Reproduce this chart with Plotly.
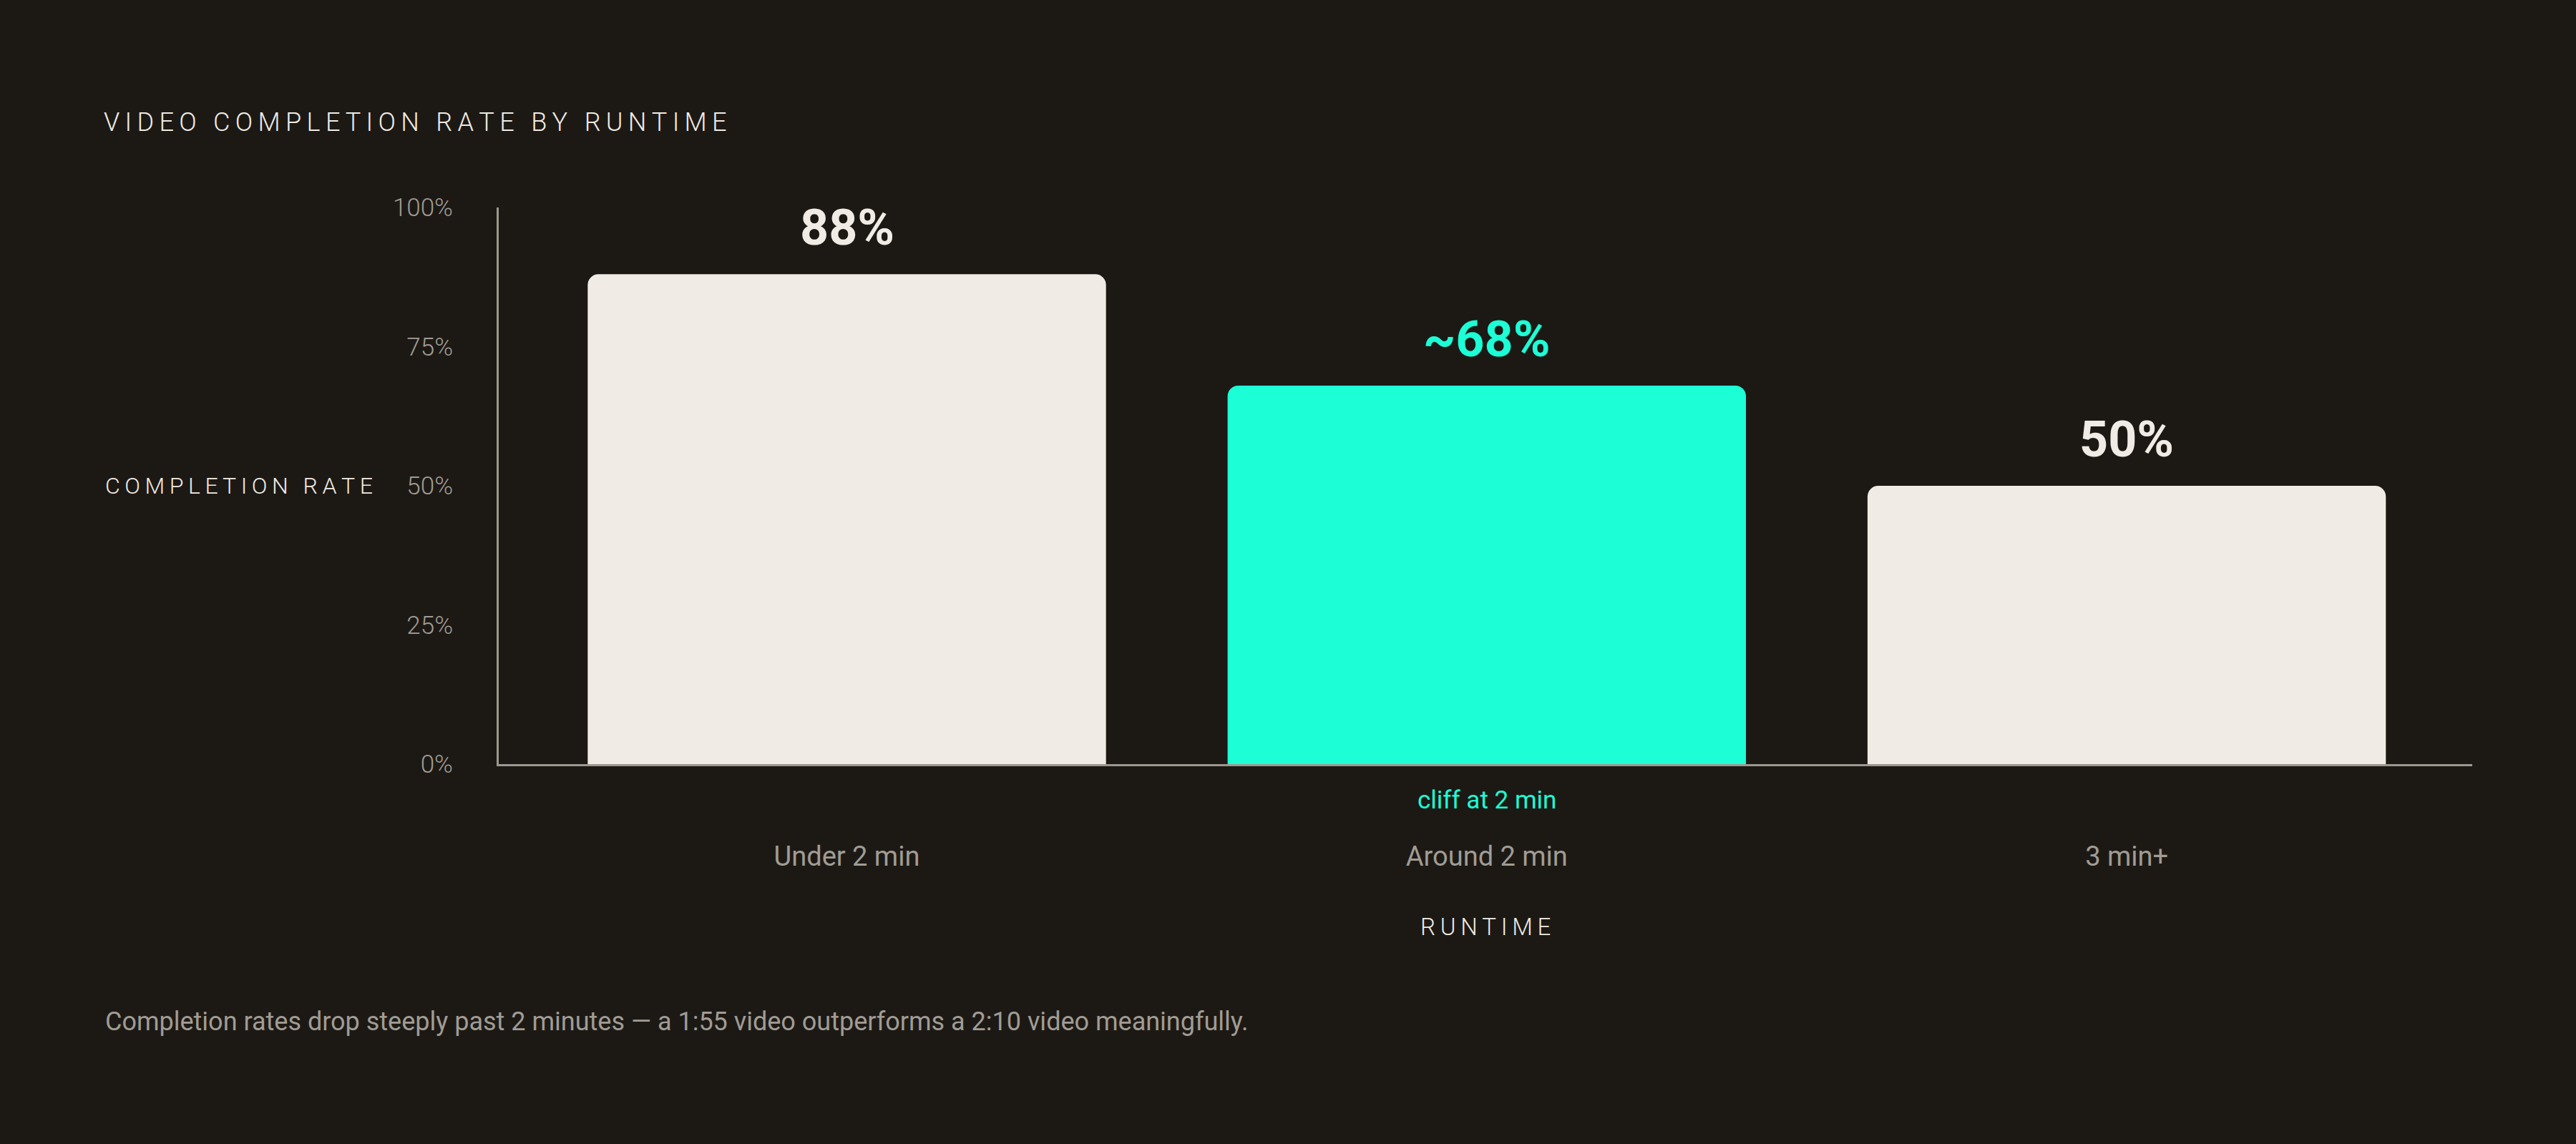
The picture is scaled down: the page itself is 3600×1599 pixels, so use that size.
import plotly.graph_objects as go

# data
runtimes = ["Under 2 min", "Around 2 min", "3 min+"]
completion = [88, 68, 50]
value_labels = ["88%", "~68%", "50%"]
highlight = [False, True, False]
y_ticks = [0, 25, 50, 75, 100]
y_ticktext = ["0%", "25%", "50%", "75%", "100%"]

BG = "#1c1915"
CREAM = "#f0ebe4"
TEAL = "#1cffd6"
MUTED = "#a19c94"
AXIS = "#9d988f"
FONT = "Roboto"


def spaced(s):
    # fake css letter-spacing with thin spaces
    return "\u2009".join(s)


bar_colors = [TEAL if h else CREAM for h in highlight]
label_colors = [TEAL if h else CREAM for h in highlight]

fig = go.Figure()
fig.add_trace(go.Bar(
    x=runtimes,
    y=completion,
    marker=dict(color=bar_colors, cornerradius=15, line=dict(width=0)),
    width=0.81,
    hoverinfo="skip",
))

# value labels above bars
for cat, val, txt, col in zip(runtimes, completion, value_labels, label_colors):
    fig.add_annotation(
        x=cat, y=val, text="<b>" + txt + "</b>", showarrow=False,
        xanchor="center", yanchor="bottom", yshift=22,
        font=dict(family=FONT, size=70, color=col),
    )

# note under the highlighted bar
fig.add_annotation(
    x=runtimes[1], y=0, text="cliff at 2 min", showarrow=False,
    xanchor="center", yanchor="middle", yshift=-50,
    font=dict(family=FONT, size=35, color=TEAL),
)

# y axis title, horizontal at the left
fig.add_annotation(
    xref="paper", yref="paper", x=(145 - 697) / 2758, y=0.5,
    text=spaced("COMPLETION") + "\u2009 \u2009" + spaced("RATE"),
    showarrow=False, xanchor="left", yanchor="middle",
    font=dict(family=FONT, size=32, color=CREAM, weight=300),
)

# x axis title
fig.add_annotation(
    xref="paper", yref="paper", x=0.5, y=-(1295 - 1068) / 778,
    text=spaced("RUNTIME"), showarrow=False,
    xanchor="center", yanchor="middle",
    font=dict(family=FONT, size=33, color=CREAM, weight=300),
)

# footnote
fig.add_annotation(
    xref="paper", yref="paper", x=(145 - 697) / 2758, y=-(1428 - 1068) / 778,
    text="Completion rates drop steeply past 2 minutes \u2014 a 1:55 video outperforms a 2:10 video meaningfully.",
    showarrow=False, xanchor="left", yanchor="middle",
    font=dict(family=FONT, size=36, color=MUTED),
)

title_words = ["VIDEO", "COMPLETION", "RATE", "BY", "RUNTIME"]
fig.update_layout(
    width=3600, height=1599,
    paper_bgcolor=BG, plot_bgcolor=BG,
    margin=dict(l=697, r=145, t=290, b=531),
    showlegend=False,
    title=dict(
        text="\u2009 \u2009".join(spaced(w) for w in title_words),
        x=145 / 3600, xanchor="left", xref="container",
        y=1 - 170 / 1599, yanchor="middle", yref="container",
        font=dict(family=FONT, size=36, color=CREAM, weight=300),
    ),
    xaxis=dict(
        range=[-0.544, 2.54],
        showline=True, linecolor=AXIS, linewidth=3,
        showgrid=False, zeroline=False,
        ticks="outside", ticklen=93, tickcolor="rgba(0,0,0,0)",
        tickfont=dict(family=FONT, size=38, color=MUTED),
        fixedrange=True,
    ),
    yaxis=dict(
        range=[0, 100],
        tickvals=y_ticks, ticktext=y_ticktext,
        showline=True, linecolor=AXIS, linewidth=3,
        showgrid=False, zeroline=False,
        ticks="outside", ticklen=54, tickcolor="rgba(0,0,0,0)",
        tickfont=dict(family=FONT, size=35, color=MUTED, weight=300),
        fixedrange=True,
    ),
)

# drop the browser's default page margin so the figure fills the window
fig.write_html(
    "out.html",
    config={"displayModeBar": False},
    post_script="document.body.style.margin='0';document.body.style.background='%s';" % BG,
)
